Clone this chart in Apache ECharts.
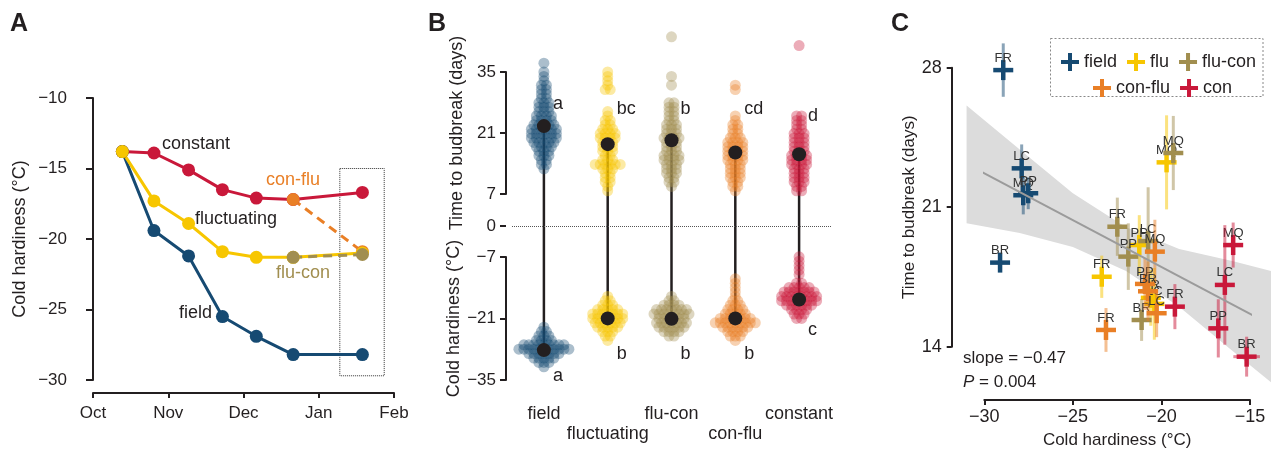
<!DOCTYPE html>
<html>
<head>
<meta charset="utf-8">
<script src="https://cdn.jsdelivr.net/npm/echarts@6/dist/echarts.min.js"></script>
<style>
  html, body { margin: 0; padding: 0; background: #fff; }
  #chart { width: 1271px; height: 450px; }
</style>
</head>
<body>
<div id="chart"></div>
<script>
const FONT = '"Liberation Sans", Arial, sans-serif'
const INK = '#231f20'
const C_FIELD = '#164a72'
const C_FLU = '#f7c600'
const C_FLUCON = '#a18e4f'
const C_CONFLU = '#e97f26'
const C_CON = '#c9183a'

// ---- panel A: cold hardiness over the season
const monthLabels = ['Oct', 'Nov', 'Dec', 'Jan', 'Feb']
const samplePos = [0.39, 0.81, 1.27, 1.72, 2.17, 2.66, 3.58]
const hardConstant = [-13.8, -13.9, -15.1, -16.5, -17.1, -17.2, -16.7]
const hardFluct = [-13.8, -17.3, -18.9, -20.9, -21.3, -21.3, -21.0]
const hardField = [-13.8, -19.4, -21.2, -25.5, -26.9, -28.2, -28.2]
const hardConFlu = [null, null, null, null, null, -17.2, -20.9]
const hardFluCon = [null, null, null, null, null, -21.3, -21.1]
const boxX = [3.28, 3.87]
const boxY = [-15.0, -29.7]

// ---- panel B: [value, number of trees] per level
const groupsB = ['field', 'fluctuating', 'flu-con', 'con-flu', 'constant']
const budField = [[13,1],[14,2],[15,2],[16,3],[17,3],[18,4],[19,5],[20,6],[21,6],[22,6],[23,5],[24,4],[25,4],[26,3],[27,3],[28,3],[29,2],[30,2],[31,2],[32,2],[33,1],[34,1],[35,1],[37,1]]
const budFluct = [[8,1],[9,1],[10,2],[11,2],[12,2],[13,3],[14,6],[15,3],[16,2],[17,3],[18,3],[19,3],[20,4],[21,4],[22,3],[23,2],[24,2],[25,1],[26,1],[31,2],[32,1],[33,1],[34,1],[35,1]]
const budFluCon = [[9,1],[10,2],[11,2],[12,3],[13,3],[14,3],[15,4],[16,4],[17,3],[18,3],[19,3],[20,4],[21,3],[22,3],[23,3],[24,2],[25,2],[26,2],[27,2],[28,2],[32,1],[34,1],[43,1]]
const budConFlu = [[8,1],[9,2],[10,2],[11,3],[12,3],[13,3],[14,3],[15,4],[16,4],[17,4],[18,4],[19,4],[20,3],[21,2],[22,2],[23,2],[24,1],[25,1],[31,1],[32,1]]
const budConst = [[8,2],[9,2],[10,3],[11,3],[12,3],[13,3],[14,4],[15,4],[16,4],[17,3],[18,3],[19,3],[20,3],[21,3],[22,2],[23,2],[24,2],[25,2],[41,1]]
const chField = [[-32,1],[-31,3],[-30,5],[-29,7],[-28,11],[-27,9],[-26,4],[-25,3],[-24,2],[-23,1]]
const chFluct = [[-26,1],[-25,2],[-24,3],[-23,5],[-22,6],[-21,7],[-20,7],[-19,5],[-18,3],[-17,2],[-16,1]]
const chFluCon = [[-25,2],[-24,4],[-23,6],[-22,7],[-21,6],[-20,8],[-19,7],[-18,4],[-17,2],[-16,1]]
const chConFlu = [[-26,1],[-25,3],[-24,4],[-23,6],[-22,9],[-21,7],[-20,5],[-19,4],[-18,3],[-17,2],[-16,1],[-15,1],[-14,1],[-13,1],[-12,1]]
const chConst = [[-21,2],[-20,3],[-19,4],[-18,6],[-17,8],[-16,8],[-15,7],[-14,5],[-13,2],[-11,1],[-10,1],[-9,1],[-8,1],[-7,1]]
const budMean = [22.7, 18.6, 19.5, 16.7, 16.3]
const chMean = [-28.2, -21.0, -21.1, -21.0, -16.7]
const lettersTop = ['a', 'bc', 'b', 'cd', 'd']
const lettersTopY = [27.7, 26.6, 26.6, 26.6, 25.1]
const lettersBottom = ['a', 'b', 'b', 'b', 'c']
const lettersBottomY = [-34.1, -29.2, -29.2, -29.2, -23.6]

// ---- panel C: site means [hardiness, budbreak, hardiness err, budbreak err]
const sitesField = ['FR', 'LC', 'MQ', 'PP', 'BR']
const ptsField = [[-28.93, 27.88, 0.3, 1.34], [-27.89, 22.95, 0.3, 1.2], [-27.8, 21.6, 0.3, 0.96], [-27.52, 21.7, 0.3, 0.8], [-29.11, 18.22, 0.3, 0.4]]
const sitesFlu = ['MQ', 'FR', 'PP', 'BR', 'LC']
const ptsFlu = [[-19.71, 23.25, 0.4, 2.36], [-23.37, 17.51, 0.4, 1.06], [-21.25, 19.1, 0.4, 1.5], [-20.6, 16.45, 0.4, 1.4], [-20.4, 16.15, 0.4, 1.8]]
const sitesFluCon = ['MQ', 'FR', 'PP', 'BR', 'LC']
const ptsFluCon = [[-19.33, 23.72, 0.4, 1.86], [-22.49, 20.02, 0.4, 1.46], [-21.87, 18.52, 0.4, 1.67], [-21.12, 15.34, 0.4, 1.05], [-20.75, 19.3, 0.4, 2.7]]
const sitesConFlu = ['MQ', 'FR', 'PP', 'BR', 'LC']
const ptsConFlu = [[-20.37, 18.77, 0.4, 1.6], [-23.13, 14.84, 0.4, 1.1], [-20.93, 17.15, 0.4, 1.3], [-20.76, 16.78, 0.4, 1.5], [-20.27, 15.68, 0.4, 1.2]]
const sitesCon = ['MQ', 'LC', 'PP', 'BR', 'FR']
const ptsCon = [[-15.95, 19.1, 0.4, 1.13], [-16.42, 17.1, 0.4, 3.0], [-16.79, 14.92, 0.4, 1.46], [-15.19, 13.5, 0.75, 1.0], [-19.24, 16.01, 0.4, 1.13]]
const fitX = [-31, -13.8]
const fitY = [23.17, 15.09]
const bandX = [-31, -28, -25, -22, -19, -16, -13.8]
const bandHi = [26.1, 23.9, 21.7, 20.0, 18.9, 18.3, 17.8]
const bandLo = [20.2, 19.7, 19.0, 17.8, 16.0, 13.8, 12.2]

const minus = v => String(v).replace('-', '\u2212')
const axisText = size => ({ color: INK, fontSize: size, fontFamily: FONT })
const inkLine = { show: true, lineStyle: { color: INK, width: 2 } }

const pairs = arr => samplePos.map((m, i) => [m, arr[i]]).filter(p => p[1] != null)

function lineA (name, arr, color, dashed) {
  return {
    name, type: 'line', xAxisIndex: 0, yAxisIndex: 0,
    data: pairs(arr),
    symbol: 'circle', symbolSize: 13,
    itemStyle: { color },
    lineStyle: { color, width: 3, type: dashed ? [9, 6] : 'solid' },
    emphasis: { disabled: true }
  }
}

// spread dots of equal value side by side
function swarm (cat, hist) {
  const out = []
  hist.forEach(([v, n]) => {
    for (let i = 0; i < n; i++) {
      out.push({ value: [cat, v], symbolOffset: [(i - (n - 1) / 2) * 5, 0] })
    }
  })
  return out
}

const swarmSets = [
  [budField, chField, C_FIELD],
  [budFluct, chFluct, C_FLU],
  [budFluCon, chFluCon, C_FLUCON],
  [budConFlu, chConFlu, C_CONFLU],
  [budConst, chConst, C_CON]
]

const swarmSeries = swarmSets.map(([bud, ch, color], i) => ({
  name: 'B ' + groupsB[i], type: 'scatter', xAxisIndex: 1, yAxisIndex: 1,
  symbolSize: 11,
  itemStyle: { color, opacity: 0.36 },
  data: swarm(i, bud).concat(swarm(i, ch)),
  emphasis: { disabled: true }, silent: true
}))

function crossRenderer (sites, color) {
  return (params, api) => {
    const x = api.value(0)
    const y = api.value(1)
    const xe = api.value(2)
    const ye = api.value(3)
    const c = api.coord([x, y])
    const yTop = api.coord([x, y + ye])[1]
    const yBot = api.coord([x, y - ye])[1]
    const xL = api.coord([x - xe, y])[0]
    const xR = api.coord([x + xe, y])[0]
    const faint = { stroke: color, lineWidth: 3, opacity: 0.5 }
    const bold = { stroke: color, lineWidth: 4.5 }
    return {
      type: 'group',
      children: [
        { type: 'line', shape: { x1: c[0], y1: yTop, x2: c[0], y2: yBot }, style: faint },
        { type: 'line', shape: { x1: xL, y1: c[1], x2: xR, y2: c[1] }, style: faint },
        { type: 'line', shape: { x1: c[0] - 10, y1: c[1], x2: c[0] + 10, y2: c[1] }, style: bold },
        { type: 'line', shape: { x1: c[0], y1: c[1] - 10, x2: c[0], y2: c[1] + 10 }, style: bold },
        {
          type: 'text', x: c[0], y: c[1] - 12,
          style: { text: sites[params.dataIndex], fontSize: 13, fontFamily: FONT, fill: '#333', align: 'center', verticalAlign: 'middle' }
        }
      ]
    }
  }
}

function crossSeries (name, pts, sites, color) {
  return {
    name, type: 'custom', xAxisIndex: 4, yAxisIndex: 4,
    data: pts, clip: false,
    itemStyle: { color },
    encode: { x: 0, y: 1 },
    renderItem: crossRenderer(sites, color),
    silent: true
  }
}

const plusIcon = 'path://M0,7L18,7L18,11L0,11Z M7,0L11,0L11,18L7,18Z'

const option = {
  animation: false,
  backgroundColor: '#fff',
  textStyle: { fontFamily: FONT },
  grid: [
    { left: 93, top: 98, width: 301, height: 282, outerBoundsMode: 'none' },
    { left: 512, top: 28, width: 319, height: 352, outerBoundsMode: 'none' },
    { left: 506, top: 72, width: 325, height: 122, outerBoundsMode: 'none' },
    { left: 506, top: 257, width: 325, height: 123, outerBoundsMode: 'none' },
    { left: 984.3, top: 67.7, width: 265.7, height: 279, outerBoundsMode: 'none' }
  ],
  xAxis: [
    {
      gridIndex: 0, type: 'value', min: 0, max: 4, interval: 1, offset: 13,
      axisLine: inkLine, axisTick: { show: true, length: 5, lineStyle: { color: INK, width: 2 } },
      axisLabel: { ...axisText(17), margin: 12, formatter: v => monthLabels[v] },
      splitLine: { show: false }
    },
    {
      gridIndex: 1, type: 'category', data: groupsB, boundaryGap: true,
      axisLine: { show: false }, axisTick: { show: false },
      axisLabel: { ...axisText(18), margin: 24, lineHeight: 20, interval: 0, formatter: (v, i) => (i % 2 ? '\n' + v : v) }
    },
    { gridIndex: 2, type: 'value', min: 0, max: 1, show: false },
    { gridIndex: 3, type: 'value', min: 0, max: 1, show: false },
    {
      gridIndex: 4, type: 'value', min: -30, max: -15, interval: 5, offset: 53.3,
      axisLine: inkLine, axisTick: { show: true, length: 5, lineStyle: { color: INK, width: 2 } },
      axisLabel: { ...axisText(18), margin: 8, formatter: minus },
      splitLine: { show: false },
      name: 'Cold hardiness (\u00b0C)', nameLocation: 'middle', nameGap: 32,
      nameTextStyle: axisText(17)
    }
  ],
  yAxis: [
    {
      gridIndex: 0, type: 'value', min: -30, max: -10, interval: 5, offset: 16,
      axisLine: inkLine, axisTick: { show: true, length: 7, lineStyle: { color: INK, width: 2 } },
      axisLabel: { ...axisText(17), margin: 10, formatter: minus },
      splitLine: { show: false },
      name: 'Cold hardiness (\u00b0C)', nameLocation: 'middle', nameGap: 48,
      nameTextStyle: axisText(18)
    },
    {
      gridIndex: 1, type: 'value', min: -35, max: 45, offset: 6,
      axisLine: { show: false },
      axisTick: { show: true, length: 6, customValues: [0], lineStyle: { color: INK, width: 2 } },
      axisLabel: { ...axisText(17), margin: 10, customValues: [0] },
      splitLine: { show: false }
    },
    {
      gridIndex: 2, type: 'value', min: 7, max: 35, interval: 14,
      axisLine: inkLine, axisTick: { show: true, length: 6, lineStyle: { color: INK, width: 2 } },
      axisLabel: { ...axisText(17), margin: 10 },
      splitLine: { show: false },
      name: 'Time to budbreak (days)', nameLocation: 'middle', nameGap: 40,
      nameTextStyle: axisText(18)
    },
    {
      gridIndex: 3, type: 'value', min: -35, max: -7, interval: 14,
      axisLine: inkLine, axisTick: { show: true, length: 6, lineStyle: { color: INK, width: 2 } },
      axisLabel: { ...axisText(17), margin: 10, formatter: minus },
      splitLine: { show: false },
      name: 'Cold hardiness (\u00b0C)', nameLocation: 'middle', nameGap: 40,
      nameTextStyle: axisText(18)
    },
    {
      gridIndex: 4, type: 'value', min: 14, max: 28, interval: 7, offset: 32.6,
      axisLine: inkLine, axisTick: { show: true, length: 5, lineStyle: { color: INK, width: 2 } },
      axisLabel: { ...axisText(18), margin: 10 },
      splitLine: { show: false },
      name: 'Time to budbreak (days)', nameLocation: 'middle', nameGap: 33,
      nameTextStyle: axisText(17)
    }
  ],
  legend: [
    {
      left: 1056, top: 48, itemWidth: 18, itemHeight: 18, itemGap: 10,
      icon: plusIcon, data: ['field', 'flu', 'flu-con'],
      textStyle: axisText(18), selectedMode: false
    },
    {
      left: 1088, top: 74, itemWidth: 18, itemHeight: 18, itemGap: 10,
      icon: plusIcon, data: ['con-flu', 'con'],
      textStyle: axisText(18), selectedMode: false
    }
  ],
  graphic: [
    { type: 'text', x: 10, y: 12, style: { text: 'A', font: 'bold 25px ' + FONT, fill: INK } },
    { type: 'text', x: 428, y: 12, style: { text: 'B', font: 'bold 25px ' + FONT, fill: INK } },
    { type: 'text', x: 891, y: 12, style: { text: 'C', font: 'bold 25px ' + FONT, fill: INK } },
    { type: 'text', x: 162, y: 144, style: { text: 'constant', font: '18px ' + FONT, fill: INK, verticalAlign: 'middle' } },
    { type: 'text', x: 266, y: 180, style: { text: 'con-flu', font: '18px ' + FONT, fill: C_CONFLU, verticalAlign: 'middle' } },
    { type: 'text', x: 195, y: 219, style: { text: 'fluctuating', font: '18px ' + FONT, fill: INK, verticalAlign: 'middle' } },
    { type: 'text', x: 276, y: 273, style: { text: 'flu-con', font: '18px ' + FONT, fill: C_FLUCON, verticalAlign: 'middle' } },
    { type: 'text', x: 179, y: 313, style: { text: 'field', font: '18px ' + FONT, fill: INK, verticalAlign: 'middle' } },
    {
      type: 'rect', z: -1, shape: { x: 1050.5, y: 38.5, width: 212.5, height: 58 },
      style: { fill: 'none', stroke: '#888', lineWidth: 1, lineDash: [2, 2] }
    },
    { type: 'text', x: 963, y: 358, style: { text: 'slope = \u22120.47', font: '17px ' + FONT, fill: INK, verticalAlign: 'middle' } },
    {
      type: 'text', x: 963, y: 382,
      style: {
        text: '{i|P} = 0.004', font: '17px ' + FONT, fill: INK, verticalAlign: 'middle',
        rich: { i: { fontStyle: 'italic', fontSize: 17, fontFamily: FONT, fill: INK } }
      }
    }
  ],
  series: [
    // panel A
    {
      ...lineA('A constant', hardConstant, C_CON, false),
      markArea: {
        silent: true,
        itemStyle: { color: 'rgba(0,0,0,0)', borderColor: '#333', borderWidth: 1, borderType: 'dotted' },
        data: [[{ coord: [boxX[0], boxY[0]] }, { coord: [boxX[1], boxY[1]] }]]
      }
    },
    lineA('A field', hardField, C_FIELD, false),
    lineA('A con-flu', hardConFlu, C_CONFLU, true),
    lineA('A fluctuating', hardFluct, C_FLU, false),
    lineA('A flu-con', hardFluCon, C_FLUCON, true),

    // panel B
    ...swarmSeries,
    {
      name: 'B stems', type: 'custom', xAxisIndex: 1, yAxisIndex: 1,
      data: groupsB.map((g, i) => [i, budMean[i], chMean[i]]),
      encode: { x: 0, y: [1, 2] },
      renderItem: (params, api) => {
        const a = api.coord([api.value(0), api.value(1)])
        const b = api.coord([api.value(0), api.value(2)])
        return { type: 'line', shape: { x1: a[0], y1: a[1], x2: b[0], y2: b[1] }, style: { stroke: INK, lineWidth: 2.5 } }
      },
      silent: true
    },
    {
      name: 'B means', type: 'scatter', xAxisIndex: 1, yAxisIndex: 1,
      symbolSize: 14, itemStyle: { color: INK, opacity: 1 },
      data: groupsB.map((g, i) => [i, budMean[i]]).concat(groupsB.map((g, i) => [i, chMean[i]])),
      silent: true,
      markLine: {
        silent: true, symbol: 'none', label: { show: false },
        lineStyle: { color: '#555', type: 'dotted', width: 1 },
        data: [{ yAxis: 0 }]
      }
    },
    {
      name: 'B letters', type: 'scatter', xAxisIndex: 1, yAxisIndex: 1,
      symbolSize: 0, itemStyle: { opacity: 1 },
      data: lettersTop.map((t, i) => ({ value: [i, lettersTopY[i]], name: t }))
        .concat(lettersBottom.map((t, i) => ({ value: [i, lettersBottomY[i]], name: t }))),
      label: { show: true, position: 'right', distance: 9, formatter: p => p.name, color: INK, fontSize: 18, fontFamily: FONT, textBorderWidth: 0, opacity: 1 },
      silent: true
    },

    // panel C
    {
      name: 'C band', type: 'custom', xAxisIndex: 4, yAxisIndex: 4, clip: false,
      data: bandX.map((x, i) => [x, bandLo[i], bandHi[i]]),
      encode: { x: 0, y: [1, 2] },
      renderItem: (params, api) => {
        if (params.dataIndex !== 0) return null
        const upper = bandX.map((x, i) => api.coord([x, bandHi[i]]))
        const lower = bandX.map((x, i) => api.coord([x, bandLo[i]])).reverse()
        return { type: 'polygon', shape: { points: upper.concat(lower) }, style: { fill: '#dcdcdc' } }
      },
      silent: true
    },
    {
      name: 'C fit', type: 'line', xAxisIndex: 4, yAxisIndex: 4, clip: false,
      data: fitX.map((x, i) => [x, fitY[i]]),
      symbol: 'none', lineStyle: { color: '#9b9b9b', width: 2 }, silent: true
    },
    crossSeries('field', ptsField, sitesField, C_FIELD),
    crossSeries('flu', ptsFlu, sitesFlu, C_FLU),
    crossSeries('flu-con', ptsFluCon, sitesFluCon, C_FLUCON),
    crossSeries('con-flu', ptsConFlu, sitesConFlu, C_CONFLU),
    crossSeries('con', ptsCon, sitesCon, C_CON)
  ]
}

const chart = echarts.init(document.getElementById('chart'), null, { renderer: 'canvas' })
chart.setOption(option)
window.addEventListener('resize', () => chart.resize())
</script>
</body>
</html>
